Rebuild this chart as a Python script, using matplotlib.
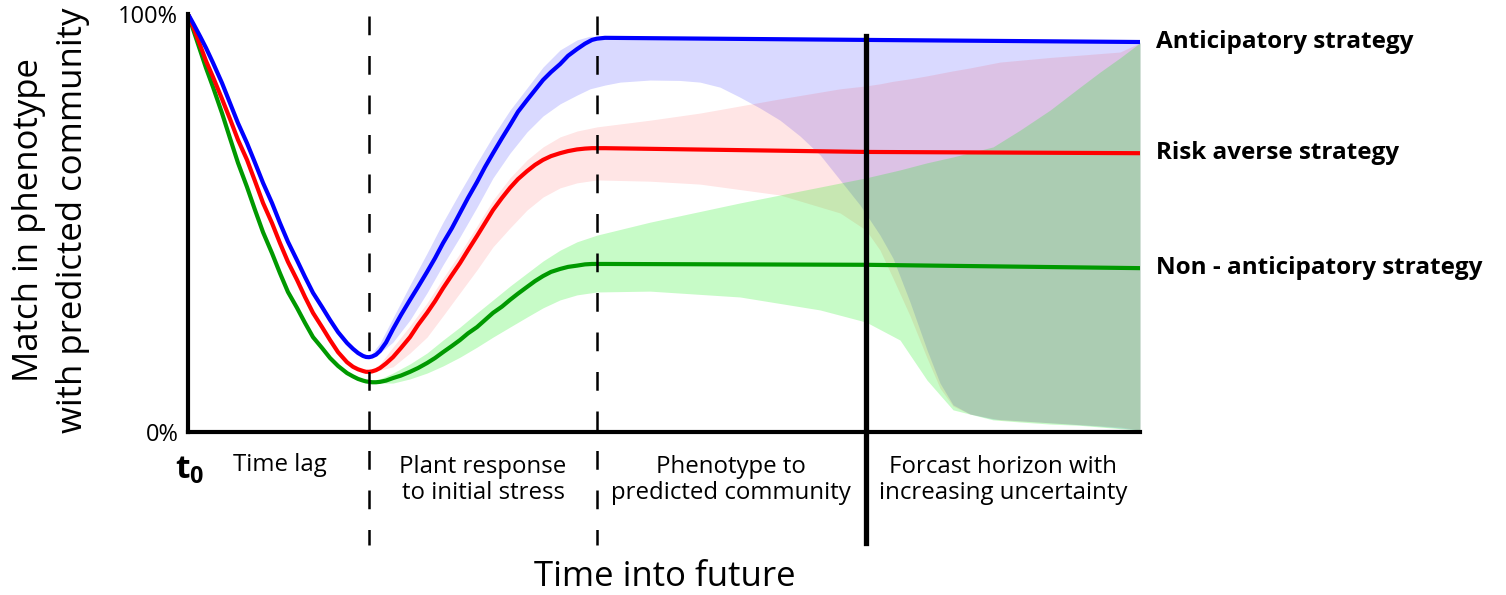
import matplotlib
matplotlib.use("Agg")
import matplotlib.pyplot as plt

plt.rcParams["font.family"] = ["Open Sans", "DejaVu Sans"]
plt.rcParams["mathtext.fontset"] = "custom"
plt.rcParams["mathtext.bf"] = "Open Sans:bold"
plt.rcParams["mathtext.rm"] = "Open Sans"

# ---- data (time in arbitrary units, t0 = 0 ... 10; match in %) ----
t_line = [0.00, 0.063, 0.126, 0.189, 0.263, 0.357, 0.441, 0.525, 0.620, 0.704,
          0.788, 0.882, 0.966, 1.050, 1.145, 1.229, 1.313, 1.408, 1.492, 1.576,
          1.670, 1.733, 1.786, 1.838, 1.870, 1.901, 1.933, 1.975, 2.017, 2.080,
          2.153, 2.237, 2.332, 2.416, 2.511, 2.595, 2.679, 2.773, 2.857, 2.941,
          3.036, 3.120, 3.204, 3.298, 3.382, 3.466, 3.561, 3.645, 3.729, 3.813,
          3.908, 3.992, 4.086, 4.170, 4.244, 4.296, 4.380, 7.122, 10.0]
anticipatory = [100.0, 97.4, 94.7, 91.9, 88.3, 83.5, 78.7, 73.9, 69.1, 64.4,
                59.6, 54.8, 50.0, 45.5, 41.1, 37.1, 33.3, 29.9, 26.8, 23.9,
                21.3, 19.9, 18.9, 18.2, 17.95, 17.9, 18.05, 18.5, 19.4, 21.4,
                24.6, 28.0, 31.6, 34.7, 38.3, 41.6, 45.2, 48.8, 52.4, 56.0,
                59.8, 63.4, 66.7, 70.3, 73.4, 76.6, 79.4, 81.8, 84.2, 86.1,
                88.0, 90.0, 91.6, 92.9, 93.8, 94.1, 94.3, 93.8, 93.3]
risk_averse = [100.0, 96.4, 92.6, 88.8, 84.9, 79.7, 74.9, 69.9, 65.1, 60.0,
               54.8, 50.0, 45.2, 40.7, 36.4, 32.3, 28.5, 25.1, 22.0, 19.1,
               16.7, 15.6, 15.0, 14.6, 14.4, 14.4, 14.5, 14.8, 15.3, 16.4,
               17.9, 20.1, 22.7, 25.6, 28.5, 31.3, 34.4, 37.6, 40.4, 43.5,
               46.9, 50.0, 53.1, 56.0, 58.4, 60.5, 62.4, 63.9, 65.1, 66.0,
               66.7, 67.2, 67.6, 67.8, 67.9, 67.9, 67.9, 67.0, 66.7]
non_anticipatory = [100.0, 95.7, 91.4, 87.1, 82.5, 76.3, 70.3, 64.4, 58.6, 53.1,
                    47.8, 42.8, 38.0, 33.5, 29.7, 26.1, 22.7, 20.1, 17.7, 15.8,
                    14.1, 13.3, 12.7, 12.3, 12.1, 12.0, 11.9, 11.9, 12.0, 12.3,
                    12.9, 13.5, 14.4, 15.3, 16.5, 17.7, 19.1, 20.6, 22.0, 23.6,
                    25.1, 26.8, 28.5, 30.0, 31.6, 33.1, 34.7, 36.1, 37.3, 38.3,
                    39.0, 39.5, 39.8, 40.1, 40.2, 40.2, 40.2, 40.0, 39.2]

# uncertainty bands
t_blue = [1.901, 2.017, 2.153, 2.332, 2.511, 2.679, 2.857, 3.036, 3.204, 3.382,
          3.561, 3.729, 3.908, 4.086, 4.223, 4.380, 4.538, 4.853, 5.168, 5.378,
          5.588, 5.798, 6.008, 6.218, 6.429, 6.639, 6.849, 7.059, 7.269, 7.405,
          7.584, 7.763, 7.899, 8.036, 8.214, 8.456, 9.055, 9.580, 10.0]
blue_hi = [17.9, 21.3, 27.3, 35.2, 42.8, 50.2, 57.4, 64.4, 70.8, 77.0,
           82.3, 87.3, 91.4, 93.8, 94.7, 94.4, 94.3, 94.2, 94.2, 94.1,
           94.1, 94.0, 94.0, 94.0, 93.9, 93.9, 93.8, 93.8, 93.8, 93.7,
           93.7, 93.7, 93.6, 93.6, 93.6, 93.5, 93.5, 93.4, 93.3]
blue_lo = [17.9, 18.9, 21.5, 26.8, 33.3, 40.0, 46.7, 53.8, 60.8, 66.7,
           71.8, 75.6, 78.5, 80.6, 82.1, 83.0, 83.7, 84.2, 84.1, 83.7,
           82.5, 80.1, 77.5, 74.6, 70.8, 66.3, 60.3, 54.3, 47.1, 41.6,
           31.1, 19.6, 11.7, 6.5, 4.3, 3.1, 2.2, 1.4, 0.5]

t_red = [1.901, 2.017, 2.153, 2.332, 2.511, 2.679, 2.857, 3.036, 3.204, 3.382,
         3.561, 3.729, 3.908, 4.086, 4.296, 4.853, 5.378, 6.218, 6.849, 7.122,
         7.269, 7.405, 7.584, 7.763, 7.899, 8.036, 8.214, 8.529, 9.055, 9.790, 10.0]
red_hi = [14.4, 16.3, 20.3, 25.4, 30.9, 36.8, 42.8, 49.3, 55.5, 60.8,
          65.1, 68.2, 70.6, 72.0, 73.0, 74.6, 76.3, 79.7, 82.1, 82.8,
          83.3, 83.9, 84.5, 85.2, 85.8, 86.4, 87.1, 88.5, 89.6, 90.9, 93.1]
red_lo = [14.4, 14.8, 15.6, 18.9, 22.7, 27.8, 33.3, 38.8, 44.3, 48.8,
          53.1, 56.2, 58.4, 59.6, 60.3, 60.0, 59.3, 56.7, 52.4, 48.3,
          43.5, 36.8, 27.8, 17.7, 10.5, 6.2, 4.3, 2.9, 2.2, 1.2, 0.5]

t_green = [1.901, 2.017, 2.153, 2.332, 2.511, 2.679, 2.857, 3.036, 3.204, 3.382,
           3.561, 3.729, 3.908, 4.086, 4.296, 4.853, 5.798, 6.639, 7.122, 7.479,
           7.763, 8.036, 8.456, 8.739, 9.055, 9.370, 9.580, 9.790, 10.0]
green_hi = [12.0, 12.7, 14.1, 16.3, 18.9, 22.0, 25.1, 28.5, 31.6, 34.9,
            38.0, 40.9, 43.5, 45.5, 47.1, 50.2, 54.8, 58.6, 60.8, 62.7,
            64.4, 65.8, 68.2, 72.2, 77.0, 82.5, 86.1, 89.5, 93.1]
green_lo = [12.0, 11.7, 11.7, 12.7, 14.1, 15.8, 17.9, 20.3, 22.7, 25.1,
            27.5, 29.7, 31.6, 32.8, 33.5, 33.7, 32.3, 29.2, 26.3, 22.0,
            12.4, 5.3, 2.9, 2.4, 1.9, 1.6, 1.2, 0.8, 0.5]

phase_bounds = [1.901, 4.296]      # dashed
horizon = 7.122                    # solid
phase_labels = ["Time lag", "Plant response\nto initial stress",
                "Phenotype to\npredicted community",
                "Forcast horizon with\nincreasing uncertainty"]
phase_centers = [0.966, 3.10, 5.70, 8.56]
strategy_names = ["Anticipatory strategy", "Risk averse strategy",
                  "Non - anticipatory strategy"]

# ---- figure ----
fig = plt.figure(figsize=(15.06, 5.95), dpi=100)
ax = fig.add_axes([188 / 1506, 163 / 595, 952 / 1506, 418 / 595])
ax.set_xlim(0, 10)
ax.set_ylim(0, 100)

ax.fill_between(t_blue, blue_lo, blue_hi, color="#0000ff", alpha=0.15, lw=0)
ax.fill_between(t_red, red_lo, red_hi, color="#ff0000", alpha=0.10, lw=0)
ax.fill_between(t_green, green_lo, green_hi, color="#00f000", alpha=0.22, lw=0)

ax.plot(t_line, non_anticipatory, color="#009900", lw=3, solid_joinstyle="round")
ax.plot(t_line, risk_averse, color="#ff0000", lw=3, solid_joinstyle="round")
ax.plot(t_line, anticipatory, color="#0000ff", lw=3, solid_joinstyle="round")

for xb in phase_bounds:
    ax.plot([xb, xb], [99.5, -27], color="black", lw=1.8, dashes=(7.5, 8.3),
            clip_on=False, zorder=5)
ax.plot([horizon, horizon], [94.7, -26.5], color="black", lw=3.8,
        clip_on=False, zorder=5)

for sp in ["top", "right"]:
    ax.spines[sp].set_visible(False)
for sp in ["left", "bottom"]:
    ax.spines[sp].set_linewidth(3)
    ax.spines[sp].set_zorder(6)

ax.set_xticks([])
ax.set_yticks([0, 100])
ax.set_yticklabels(["0%", "100%"], fontsize=17)
ax.tick_params(axis="y", length=0, pad=7)

for lab, xc in zip(phase_labels, phase_centers):
    yy = -0.079 if "\n" not in lab else -0.115
    ax.text(xc, yy, lab, transform=ax.get_xaxis_transform(), ha="center",
            va="center", fontsize=17.3, linespacing=1.15)

ax.text(0.02, -0.09, r"$\mathbf{t_0}$", transform=ax.get_xaxis_transform(),
        ha="center", va="center", fontsize=24)

for name, yv in zip(strategy_names, [anticipatory[-1], risk_averse[-1], non_anticipatory[-1]]):
    ax.text(10.17, yv, name, ha="left", va="center", fontsize=17.5,
            fontweight="bold", clip_on=False)

fig.text(0.034, 1 - 220 / 595, "Match in phenotype\nwith predicted community",
         rotation=90, ha="center", va="center", multialignment="center",
         fontsize=25, linespacing=1.4)
fig.text(665 / 1506, 1 - 577 / 595, "Time into future", ha="center",
         va="center", fontsize=25)

fig.savefig("out.png", dpi=100)
